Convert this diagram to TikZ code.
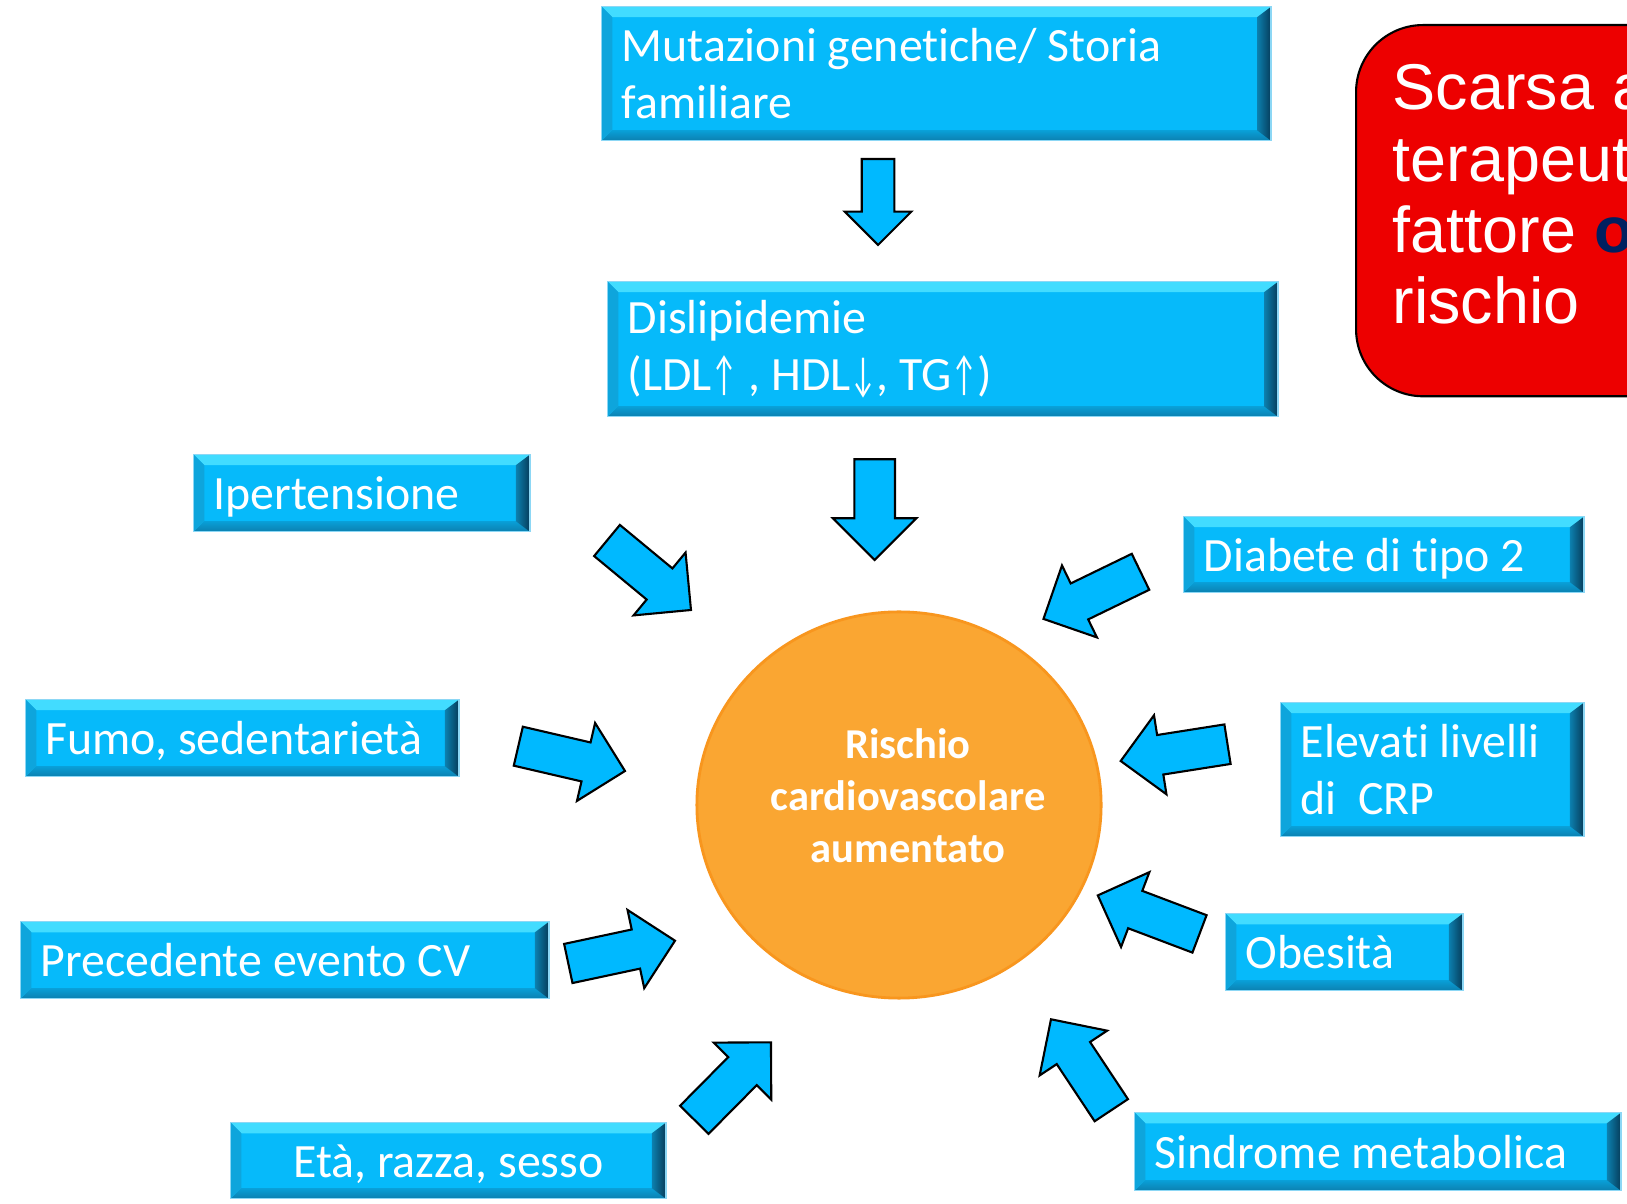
\documentclass[tikz,border=0pt]{standalone}
\usepackage{fontspec}
\usepackage{graphicx}
\setmainfont{Carlito}[Ligatures=NoCommon]
\newfontfamily\notefont{Liberation Sans}
\usepackage{tikz}
\usetikzlibrary{shapes.geometric}

\definecolor{boxblue}{RGB}{6,186,250}
\definecolor{boxline}{RGB}{140,215,245}
\definecolor{bevtop}{RGB}{66,220,255}
\definecolor{bevleft}{RGB}{14,165,220}
\definecolor{bevbot}{RGB}{12,128,175}
\definecolor{bevright}{RGB}{6,60,90}
\definecolor{arrowblue}{RGB}{0,185,255}
\definecolor{riskorange}{RGB}{250,166,50}
\definecolor{riskedge}{RGB}{248,150,30}
\definecolor{notered}{RGB}{237,0,0}
\definecolor{navy}{RGB}{0,32,96}

\newcommand{\boxfont}{\fontsize{13.6}{16.3}\selectfont}
\newcommand{\up}{\scalebox{0.6}[1]{↑}}
\newcommand{\down}{\scalebox{0.6}[1]{↓}}

% block arrow: tail x, tail y, tip x, tip y, shaft half width, head half width
\newcommand{\fatarrow}[6]{%
  \pgfmathsetmacro\arrang{atan2(#2-#4,#3-#1)}%
  \pgfmathsetmacro\arrlen{veclen(#3-#1,#4-#2)}%
  \pgfmathsetmacro\arrbase{\arrlen-#6}%
  \draw[blockarrow, shift={(#1,#2)}, rotate=\arrang]
    (0,-#5) -- (\arrbase,-#5) -- (\arrbase,-#6) -- (\arrlen,0)
    -- (\arrbase,#6) -- (\arrbase,#5) -- (0,#5) -- cycle;
}

\begin{document}
\begin{tikzpicture}[x=0.01cm, y=-0.01cm,
    box/.style={rectangle, anchor=north west, fill=boxblue, draw=boxline, line width=0.4pt,
      text=white, font=\boxfont, align=flush left,
      inner xsep=0.2cm, inner ysep=0pt,
      path picture={
        \fill[bevtop] (path picture bounding box.north west) -- (path picture bounding box.north east)
          -- ([shift={(-3pt,-3pt)}]path picture bounding box.north east)
          -- ([shift={(3pt,-3pt)}]path picture bounding box.north west) -- cycle;
        \shade[top color=bevbot!45!boxblue, bottom color=bevbot] (path picture bounding box.south west) -- (path picture bounding box.south east)
          -- ([shift={(-3pt,3pt)}]path picture bounding box.south east)
          -- ([shift={(3pt,3pt)}]path picture bounding box.south west) -- cycle;
        \fill[bevleft] (path picture bounding box.north west) -- (path picture bounding box.south west)
          -- ([shift={(3pt,3pt)}]path picture bounding box.south west)
          -- ([shift={(3pt,-3pt)}]path picture bounding box.north west) -- cycle;
        \shade[left color=bevbot, right color=bevright] (path picture bounding box.north east) -- (path picture bounding box.south east)
          -- ([shift={(-4pt,3pt)}]path picture bounding box.south east)
          -- ([shift={(-4pt,-3pt)}]path picture bounding box.north east) -- cycle;
      }},
    oneline/.style={text height=9.4pt, text depth=0pt},
    blockarrow/.style={draw=black, line width=0.6pt, fill=arrowblue, line join=miter},
    risk/.style={ellipse, draw=riskedge, line width=0.8pt, fill=riskorange},
    risktext/.style={text=white, font=\bfseries\fontsize{12.1}{14.8}\selectfont, align=center, inner sep=0pt},
    note/.style={rectangle, anchor=north west, rounded corners=0.67cm, draw=black, line width=0.6pt,
      fill=notered},
    notetext/.style={anchor=base west, text=white, font=\notefont\fontsize{18.4}{20.2}\selectfont,
      align=flush left, inner sep=0pt, text width=3cm}
  ]
  \useasboundingbox (0,0) rectangle (1627,1204);
  \fill[white] (0,0) rectangle (1627,1204);

  % Boxes
  \node[box, text width=6.29cm, minimum height=1.34cm] (mut) at (601,6) {Mutazioni genetiche/ Storia\\familiare};
  \node[box, text width=6.30cm, minimum height=1.35cm] (dis) at (607,281) {Dislipidemie\\(LDL\up\ , HDL\down, TG\up)};
  \node[box, oneline, text width=2.96cm, minimum height=0.77cm] (ipe) at (193,454) {Ipertensione};
  \node[box, oneline, text width=3.93cm, minimum height=0.77cm] (fumo) at (25,699) {Fumo, sedentarietà};
  \node[box, oneline, text width=4.88cm, minimum height=0.77cm] (prec) at (20,921) {Precedente evento CV};
  \node[box, oneline, text width=3.95cm, minimum height=0.76cm, align=flush center] (eta) at (230,1122) {Età, razza, sesso};
  \node[box, oneline, text width=3.60cm, minimum height=0.76cm] (diab) at (1183,516) {Diabete di tipo 2};
  \node[box, text width=2.63cm, minimum height=1.34cm] (crp) at (1280,702) {Elevati livelli\\di\ \ CRP};
  \node[box, oneline, text width=1.97cm, minimum height=0.77cm] (obes) at (1225,913) {Obesità};
  \node[box, oneline, text width=4.46cm, minimum height=0.78cm] (sind) at (1134,1112) {Sindrome metabolica};

  % Centre and note
  \node[risk, minimum width=4.04cm, minimum height=3.86cm] (risk) at (899,805) {};
  \node[risktext] (risklabel) at ([shift={(9,-9)}]risk.center) {Rischio\\cardiovascolare\\aumentato};
  \node[note, minimum width=3.6cm, minimum height=3.71cm] (note) at (1355,24) {};
  \node[notetext] (notelabel) at (1392,110) {Scarsa a\\terapeut\\fattore {\color{navy}\bfseries o}\\rischio};

  % Arrows
  \fatarrow{878}{159}{878}{245}{16.3}{33.3}
  \fatarrow{874.7}{459.3}{874.7}{560}{20.3}{41.7}
  \fatarrow{607}{540.5}{691}{610}{20.2}{40.8}
  \fatarrow{518.3}{746.2}{625}{771}{20}{40}
  \fatarrow{568.3}{963.5}{675}{940.7}{20}{40}
  \fatarrow{694.3}{1119.8}{771}{1042.3}{20}{40.5}
  \fatarrow{1140.5}{571.8}{1043.3}{619}{20}{40}
  \fatarrow{1227.5}{744.2}{1120.7}{761}{20}{40}
  \fatarrow{1199.5}{933.9}{1097.8}{895.4}{20}{40}
  \fatarrow{1111.3}{1110.2}{1051}{1019.3}{20}{40.5}
\end{tikzpicture}
\end{document}
